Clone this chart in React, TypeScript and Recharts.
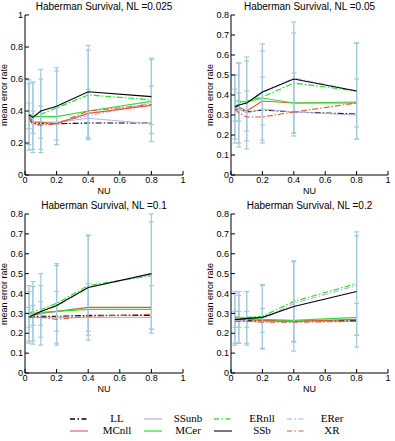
import React from "react";
import {
	LineChart,
	Line,
	XAxis,
	YAxis,
	ErrorBar,
} from "recharts";

// NU values shared by every panel
const nuValues = [0.025, 0.05, 0.1, 0.2, 0.4, 0.8];
const xTicks = [0, 0.2, 0.4, 0.6, 0.8, 1];
const yTicksWide = [0, 0.2, 0.4, 0.6, 0.8, 1];
const yTicksNarrow = [0, 0.1, 0.2, 0.3, 0.4, 0.5, 0.6, 0.7, 0.8];

// mean error rate per method, NL = 0.025
const meanNL025: Record<string, number[]> = {
	LL: [0.35, 0.32, 0.32, 0.32, 0.325, 0.325],
	SSunb: [0.36, 0.33, 0.33, 0.33, 0.355, 0.32],
	ERnll: [0.38, 0.37, 0.38, 0.42, 0.5, 0.47],
	ERer: [0.37, 0.34, 0.33, 0.33, 0.37, 0.45],
	MCnll: [0.37, 0.33, 0.33, 0.32, 0.385, 0.435],
	MCer: [0.38, 0.365, 0.365, 0.365, 0.4, 0.46],
	SSb: [0.375, 0.36, 0.4, 0.43, 0.52, 0.49],
	XR: [0.36, 0.32, 0.31, 0.32, 0.4, 0.44],
};
const errNL025: Record<string, number[]> = {
	ERnll: [0.19, 0.21, 0.22, 0.23, 0.28, 0.26],
	SSb: [0.22, 0.22, 0.26, 0.24, 0.29, 0.23],
	MCnll: [0.08, 0.07, 0.1, 0.1, 0.15, 0.12],
};

// NL = 0.05
const meanNL05: Record<string, number[]> = {
	LL: [0.33, 0.33, 0.315, 0.325, 0.315, 0.305],
	SSunb: [0.34, 0.33, 0.31, 0.33, 0.315, 0.3],
	ERnll: [0.33, 0.36, 0.37, 0.39, 0.46, 0.42],
	ERer: [0.34, 0.36, 0.36, 0.41, 0.485, 0.42],
	MCnll: [0.35, 0.34, 0.32, 0.37, 0.36, 0.36],
	MCer: [0.37, 0.37, 0.365, 0.385, 0.36, 0.365],
	SSb: [0.34, 0.35, 0.36, 0.415, 0.48, 0.42],
	XR: [0.33, 0.31, 0.29, 0.29, 0.315, 0.36],
};
const errNL05: Record<string, number[]> = {
	ERnll: [0.17, 0.2, 0.2, 0.23, 0.25, 0.24],
	SSb: [0.16, 0.21, 0.23, 0.24, 0.285, 0.24],
	MCnll: [0.08, 0.07, 0.1, 0.12, 0.15, 0.12],
};

// NL = 0.1
const meanNL1: Record<string, number[]> = {
	LL: [0.28, 0.285, 0.285, 0.285, 0.29, 0.29],
	SSunb: [0.275, 0.28, 0.28, 0.28, 0.28, 0.28],
	ERnll: [0.3, 0.31, 0.32, 0.35, 0.44, 0.49],
	ERer: [0.28, 0.29, 0.31, 0.335, 0.43, 0.495],
	MCnll: [0.28, 0.29, 0.3, 0.31, 0.33, 0.33],
	MCer: [0.295, 0.3, 0.305, 0.31, 0.32, 0.32],
	SSb: [0.28, 0.29, 0.31, 0.34, 0.43, 0.5],
	XR: [0.28, 0.28, 0.28, 0.27, 0.285, 0.295],
};
const errNL1: Record<string, number[]> = {
	ERnll: [0.14, 0.15, 0.18, 0.2, 0.25, 0.27],
	SSb: [0.13, 0.145, 0.13, 0.2, 0.265, 0.3],
	MCnll: [0.05, 0.05, 0.06, 0.1, 0.12, 0.11],
};

// NL = 0.2
const meanNL2: Record<string, number[]> = {
	LL: [0.265, 0.265, 0.265, 0.265, 0.26, 0.265],
	SSunb: [0.265, 0.265, 0.26, 0.26, 0.26, 0.26],
	ERnll: [0.28, 0.28, 0.28, 0.285, 0.36, 0.45],
	ERer: [0.27, 0.27, 0.27, 0.27, 0.35, 0.44],
	MCnll: [0.27, 0.27, 0.27, 0.265, 0.26, 0.27],
	MCer: [0.28, 0.28, 0.275, 0.27, 0.265, 0.28],
	SSb: [0.27, 0.27, 0.275, 0.28, 0.335, 0.41],
	XR: [0.26, 0.26, 0.26, 0.255, 0.255, 0.26],
};
const errNL2: Record<string, number[]> = {
	ERnll: [0.13, 0.13, 0.13, 0.16, 0.205, 0.26],
	SSb: [0.13, 0.12, 0.135, 0.16, 0.225, 0.28],
	MCnll: [0.04, 0.04, 0.04, 0.06, 0.1, 0.08],
};

const methods = ["LL", "SSunb", "ERnll", "ERer", "MCnll", "MCer", "SSb", "XR"];
const legendRows = [
	["LL", "SSunb", "ERnll", "ERer"],
	["MCnll", "MCer", "SSb", "XR"],
];

const DASH_DOT = "6 2 1.5 2";
const lineStyle: Record<string, { color: string; dash?: string; legend: string }> = {
	LL: { color: "#000000", dash: DASH_DOT, legend: "#000000" },
	SSunb: { color: "#b4b4ee", legend: "#c4c4f0" },
	ERnll: { color: "#22dd22", dash: DASH_DOT, legend: "#44dd44" },
	ERer: { color: "#b4b4ee", dash: DASH_DOT, legend: "#c4c4f0" },
	MCnll: { color: "#e05a34", legend: "#e89078" },
	MCer: { color: "#33dd33", legend: "#66e066" },
	SSb: { color: "#000000", legend: "#555555" },
	XR: { color: "#e05a34", dash: DASH_DOT, legend: "#e89078" },
};

const SANS = "'Liberation Sans', Arial, sans-serif";
const Y_AXIS_W = 30;
const X_AXIS_H = 20;
const PAD = 5;

type PanelProps = {
	title: string;
	mean: Record<string, number[]>;
	err: Record<string, number[]>;
	yMax: number;
	yTicks: number[];
	left: number;
	top: number;
	plotW: number;
	plotH: number;
};

const Panel = ({ title, mean, err, yMax, yTicks, left, top, plotW, plotH }: PanelProps) => {
	const data = nuValues.map((nu, i) => {
		const row: Record<string, number> = { nu };
		methods.forEach((m) => {
			row[m] = mean[m][i];
		});
		Object.keys(err).forEach((m) => {
			row[`${m}_err`] = err[m][i];
		});
		return row;
	});

	const tickStyle = { fill: "#000", fontSize: 9, fontFamily: SANS };
	const fmt = (v: number) => String(v);

	return (
		<>
			<div
				style={{
					position: "absolute",
					left,
					top: top - 14,
					width: plotW,
					textAlign: "center",
					fontFamily: SANS,
					fontSize: 10,
					lineHeight: "12px",
				}}
			>
				{title}
			</div>
			<div
				style={{
					position: "absolute",
					left: left - 30 - 200,
					top: top + plotH / 2 - 6,
					width: 400,
					height: 12,
					textAlign: "center",
					fontFamily: SANS,
					fontSize: 9,
					lineHeight: "12px",
					transform: "rotate(-90deg)",
					transformOrigin: "200px 6px",
					marginLeft: 9,
				}}
			>
				mean error rate
			</div>
			<div
				style={{
					position: "absolute",
					left,
					top: top + plotH + 11,
					width: plotW,
					textAlign: "center",
					fontFamily: SANS,
					fontSize: 9,
					lineHeight: "11px",
				}}
			>
				NU
			</div>
			<div style={{ position: "absolute", left: left - Y_AXIS_W, top: top - PAD }}>
				<LineChart
					width={Y_AXIS_W + plotW + PAD}
					height={PAD + plotH + X_AXIS_H}
					data={data}
					margin={{ top: PAD, right: PAD, left: 0, bottom: 0 }}
				>
					<XAxis
						type="number"
						dataKey="nu"
						domain={[0, 1]}
						ticks={xTicks}
						tickFormatter={fmt}
						height={X_AXIS_H}
						stroke="#000"
						tick={tickStyle}
						tickSize={-4}
						tickMargin={6}
						interval={0}
					/>
					<XAxis
						xAxisId="top"
						orientation="top"
						type="number"
						dataKey="nu"
						domain={[0, 1]}
						ticks={xTicks}
						tickFormatter={() => ""}
						height={0}
						stroke="#000"
						tickSize={-4}
						interval={0}
					/>
					<YAxis
						type="number"
						domain={[0, yMax]}
						ticks={yTicks}
						tickFormatter={fmt}
						width={Y_AXIS_W}
						stroke="#000"
						tick={tickStyle}
						tickSize={-4}
						tickMargin={6}
						interval={0}
					/>
					<YAxis
						yAxisId="right"
						orientation="right"
						type="number"
						domain={[0, yMax]}
						ticks={yTicks}
						tickFormatter={() => ""}
						width={0}
						stroke="#000"
						tickSize={-4}
						interval={0}
					/>
					{methods.map((m) => (
						<Line
							key={m}
							type="linear"
							dataKey={m}
							stroke={lineStyle[m].color}
							strokeDasharray={lineStyle[m].dash}
							strokeWidth={1.1}
							dot={false}
							activeDot={false}
							isAnimationActive={false}
						>
							{err[m] && (
								<ErrorBar
									dataKey={`${m}_err`}
									direction="y"
									width={2.5}
									stroke="#a3c9dc"
									strokeWidth={1.2}
								/>
							)}
						</Line>
					))}
				</LineChart>
			</div>
		</>
	);
};

const LegendSample = ({ m }: { m: string }) => (
	<svg width={18} height={6} style={{ display: "block" }}>
		<line
			x1={0}
			y1={3}
			x2={18}
			y2={3}
			stroke={lineStyle[m].legend}
			strokeWidth={1.6}
			strokeDasharray={lineStyle[m].dash ? "5 2.5 1.5 2.5" : undefined}
		/>
	</svg>
);

const sampleX = [70, 144, 214, 287];
const labelX = [117, 188, 262, 332];

const App = () => {
	return (
		<div
			style={{
				position: "absolute",
				left: 0,
				top: 0,
				width: 395,
				height: 441,
				background: "#fff",
				overflow: "hidden",
			}}
		>
			<Panel
				title="Haberman Survival, NL =0.025"
				mean={meanNL025}
				err={errNL025}
				yMax={1}
				yTicks={yTicksWide}
				left={25}
				top={15}
				plotW={158}
				plotH={160}
			/>
			<Panel
				title="Haberman Survival, NL =0.05"
				mean={meanNL05}
				err={errNL05}
				yMax={0.8}
				yTicks={yTicksNarrow}
				left={231}
				top={15}
				plotW={157}
				plotH={160}
			/>
			<Panel
				title="Haberman Survival, NL =0.1"
				mean={meanNL1}
				err={errNL1}
				yMax={0.8}
				yTicks={yTicksNarrow}
				left={25}
				top={214}
				plotW={158}
				plotH={159}
			/>
			<Panel
				title="Haberman Survival, NL =0.2"
				mean={meanNL2}
				err={errNL2}
				yMax={0.8}
				yTicks={yTicksNarrow}
				left={231}
				top={214}
				plotW={157}
				plotH={159}
			/>
			{legendRows.map((row, r) =>
				row.map((m, c) => (
					<React.Fragment key={m}>
						<div
							style={{
								position: "absolute",
								left: sampleX[c],
								top: 416 + r * 12,
							}}
						>
							<LegendSample m={m} />
						</div>
						<div
							style={{
								position: "absolute",
								left: labelX[c] - 30,
								top: 412 + r * 12,
								width: 60,
								textAlign: "center",
								fontFamily: "'Liberation Serif', 'Times New Roman', serif",
								fontSize: 11,
								lineHeight: "13px",
							}}
						>
							{m}
						</div>
					</React.Fragment>
				))
			)}
		</div>
	);
};

export default App;
